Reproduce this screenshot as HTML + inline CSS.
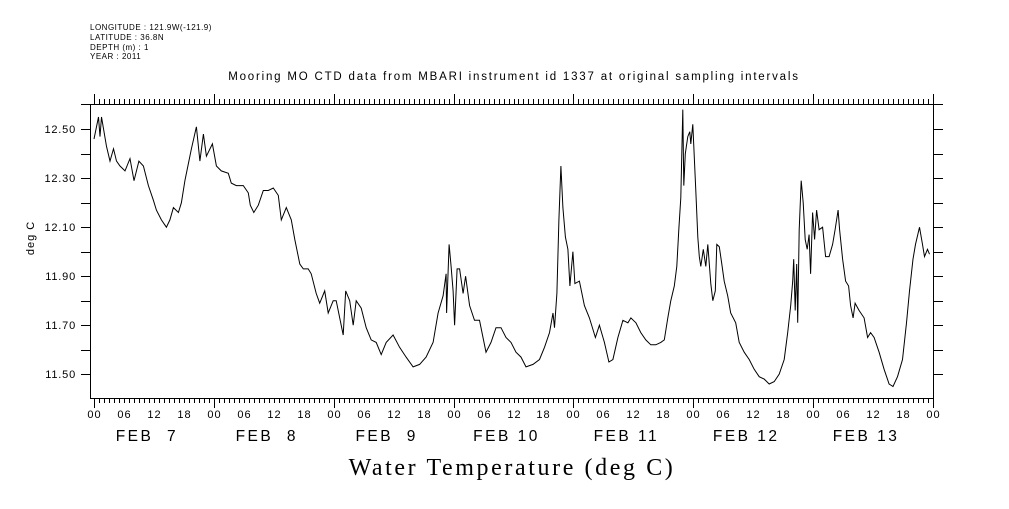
<!DOCTYPE html>
<html><head><meta charset="utf-8"><style>
body{margin:0;background:#fff;width:1009px;height:504px;overflow:hidden}
svg text{font-family:"Liberation Sans",sans-serif;fill:#000}
</style></head><body>
<svg id="chart" width="1009" height="504" viewBox="0 0 1009 504" xmlns="http://www.w3.org/2000/svg">
<g>
<text x="90" y="30" style="font-size:8px;letter-spacing:0.5px">LONGITUDE : 121.9W(-121.9)</text>
<text x="90" y="40" style="font-size:8px;letter-spacing:0.5px">LATITUDE : 36.8N</text>
<text x="90" y="50" style="font-size:8px;letter-spacing:0.5px">DEPTH (m) : 1</text>
<text x="90" y="59" style="font-size:8px;letter-spacing:0.5px">YEAR : 2011</text>
</g>
<text x="514" y="80" text-anchor="middle" style="font-size:11.5px;letter-spacing:1.8px">Mooring MO CTD data from MBARI instrument id 1337 at original sampling intervals</text>
<text transform="translate(34,238) rotate(-90)" text-anchor="middle" style="font-size:11px;letter-spacing:1px">deg C</text>
<text x="512" y="475" text-anchor="middle" style="font-family:'Liberation Serif',serif;font-size:24px;letter-spacing:2.6px">Water Temperature (deg C)</text>
<g id="axes"></g>
<path id="series" fill="none" stroke="#000" stroke-width="1"/>
</svg>
<script>
const hours=[0,0.9,1.2,1.5,2.5,3.2,3.9,4.5,5.2,6.2,7.2,8,9,9.9,10.9,11.9,12.5,13.5,14.5,15.2,15.9,16.9,17.5,18.2,18.9,19.5,20.5,21.2,21.9,22.5,23.7,24.5,25.5,26.9,27.5,28.5,29.9,30.9,31.3,32,32.9,33.9,34.9,35.9,36.9,37.5,38.5,39.5,40.2,41.2,41.9,42.9,43.5,44.5,45.2,46.2,46.9,47.9,48.5,49.2,49.9,50.4,51.2,51.9,52.5,53.5,54.5,55.5,56.5,57.5,58.5,59.9,61.2,62.5,63.9,65.2,66.5,67.9,68.9,69.9,70.5,70.6,71.1,71.5,71.9,72.2,72.7,73.2,73.9,74.4,75.2,76.2,77.2,78.5,79.5,80.5,81.5,82.5,83.5,84.5,85.5,86.5,87.9,89.2,90.2,91.2,91.9,92.2,92.7,93.1,93.5,93.9,94.4,94.9,95.3,95.9,96.3,97.2,98.2,99.2,100.4,101.2,102.2,103.1,103.9,104.9,105.9,106.9,107.5,108.5,109.5,110.5,111.5,112.5,113.5,114.2,114.9,115.5,116.2,116.7,117.1,117.5,117.9,118.1,118.4,118.9,119.3,119.5,119.9,120.5,120.9,121.2,121.5,122,122.5,122.9,123.5,123.9,124.4,124.7,125.2,125.7,126.2,126.9,127.5,128.5,129.2,130.2,131.2,132.2,133.2,134.2,135.2,136.2,137.2,138.2,138.9,139.5,139.9,140.1,140.4,140.7,140.9,141.2,141.6,142,142.4,142.8,143.2,143.5,143.9,144.3,144.7,145.2,145.9,146.5,147.2,147.9,148.4,149,149.3,149.9,150.5,151.1,151.5,152,152.4,153.2,154.2,154.9,155.5,156.2,157.2,158.2,159.2,160,160.9,161.9,162.7,163.3,164,164.5,165.3,165.9,166.3,166.9,167.3];
const temps=[12.46,12.55,12.47,12.55,12.43,12.37,12.42,12.37,12.35,12.33,12.38,12.29,12.37,12.35,12.27,12.21,12.17,12.13,12.10,12.13,12.18,12.16,12.20,12.29,12.36,12.42,12.51,12.37,12.48,12.39,12.44,12.35,12.33,12.32,12.28,12.27,12.27,12.24,12.19,12.16,12.19,12.25,12.25,12.26,12.23,12.13,12.18,12.13,12.05,11.95,11.93,11.93,11.91,11.83,11.79,11.84,11.75,11.80,11.80,11.73,11.66,11.84,11.80,11.70,11.80,11.77,11.69,11.64,11.63,11.58,11.63,11.66,11.61,11.57,11.53,11.54,11.57,11.63,11.75,11.82,11.91,11.75,12.03,11.94,11.84,11.70,11.93,11.93,11.83,11.90,11.78,11.72,11.72,11.59,11.63,11.69,11.69,11.65,11.63,11.59,11.57,11.53,11.54,11.56,11.61,11.67,11.75,11.69,11.83,12.13,12.35,12.18,12.06,12.01,11.86,12.00,11.87,11.88,11.78,11.73,11.65,11.70,11.63,11.55,11.56,11.65,11.72,11.71,11.73,11.71,11.67,11.64,11.62,11.62,11.63,11.64,11.73,11.80,11.86,11.94,12.09,12.22,12.58,12.27,12.40,12.47,12.49,12.44,12.52,12.25,12.06,11.98,11.94,12.01,11.94,12.03,11.87,11.80,11.84,12.03,12.02,11.95,11.88,11.82,11.75,11.71,11.63,11.59,11.56,11.52,11.49,11.48,11.46,11.47,11.50,11.56,11.67,11.78,11.88,11.97,11.76,11.95,11.71,12.09,12.29,12.20,12.05,12.01,12.07,11.91,12.16,12.05,12.17,12.09,12.10,11.98,11.98,12.03,12.09,12.17,12.09,11.97,11.88,11.86,11.78,11.73,11.79,11.76,11.73,11.65,11.67,11.65,11.59,11.52,11.46,11.45,11.49,11.56,11.71,11.84,11.97,12.03,12.10,12.03,11.98,12.01,11.99];
const yTicks=[11.50,11.70,11.90,12.10,12.30,12.50];
const hourLabels=["00","06","12","18"];
const dayLabels=["FEB  7","FEB  8","FEB  9","FEB 10","FEB 11","FEB 12","FEB 13"];

const X0=94,X1=933,T=104,B=398,L=90;
const Y_MIN=11.403,Y_MAX=12.603,H_MAX=168;
function xs(h){return X0+(X1-X0)*h/H_MAX;}
function ys(v){return B-(B-T)*(v-Y_MIN)/(Y_MAX-Y_MIN);}
const NS='http://www.w3.org/2000/svg';
const ax=document.getElementById('axes');
function line(x1,y1,x2,y2,name){const l=document.createElementNS(NS,'line');l.setAttribute('x1',x1);l.setAttribute('y1',y1);l.setAttribute('x2',x2);l.setAttribute('y2',y2);l.setAttribute('stroke','#000');l.setAttribute('stroke-width','1');


ax.appendChild(l);}
function text(x,y,s,size,name,anchor,ls){const t=document.createElementNS(NS,'text');t.setAttribute('x',x);t.setAttribute('y',y);t.setAttribute('text-anchor',anchor||'middle');t.style.fontSize=size+'px';if(ls)t.style.letterSpacing=ls+'px';t.setAttribute('xml:space','preserve');t.style.whiteSpace='pre';t.textContent=s;


ax.appendChild(t);}
line(L+0.5,T,L+0.5,B,'left-axis');
line(X1+0.5,T,X1+0.5,B,'right-axis');
line(81,T+0.5,943,T+0.5,'top-axis');
line(L,B+0.5,X1+1,B+0.5,'bottom-axis');
for(let k=0;k<=12;k++){const v=11.4+k*0.1;const y=Math.round(ys(v))+0.5;if(y<T+2||y>B-2)continue;
line(81,y,L,y,'y-tick-left');line(X1,y,943,y,'y-tick-right');}
yTicks.forEach(v=>text(L-14,ys(v)+4,v.toFixed(2),11,'y-tick-label','end',0.8));
for(let h=0;h<=H_MAX;h++){const x=Math.round(xs(h))+0.5;const major=h%24===0;
line(x,T,x,T-(major?10:5),'x-tick-top');line(x,B,x,B+(major?10:5),'x-tick-bottom');
if(h%6===0)text(x,418,hourLabels[(h/6)%4],11,'x-hour-label','middle',1);}
dayLabels.forEach((d,i)=>text(xs(i*24+12)-7,441,d,15.5,'x-day-label','middle',2.5));
let d='';hours.forEach((h,i)=>{d+=(i?'L':'M')+xs(h).toFixed(1)+','+ys(temps[i]).toFixed(1);});
document.getElementById('series').setAttribute('d',d);
</script>
</body></html>
